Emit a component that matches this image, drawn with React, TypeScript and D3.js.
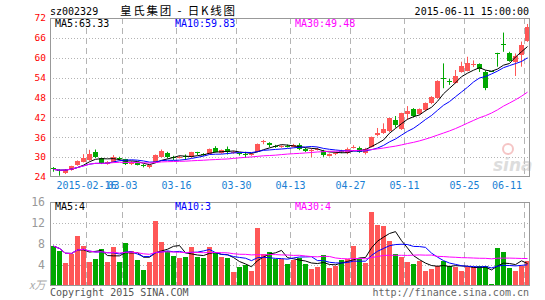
import React from "react";
import * as d3 from "d3";

// ---- data ----
const opens = [26.8,26.0,25.3,26.1,27.6,28.6,29.1,31.6,29.6,27.9,28.6,29.7,29.3,28.2,28.3,27.6,26.9,28.6,30.1,31.3,
  29.9,29.9,30.2,29.9,31.4,31.0,30.9,32.7,31.2,32.4,31.4,31.1,30.8,30.7,31.6,34.6,34.3,33.4,33.1,33.4,
  33.2,33.7,32.6,32.0,32.3,32.0,30.4,31.0,31.9,31.1,33.0,32.9,31.2,33.0,36.6,37.3,37.8,41.2,38.5,43.1,
  44.4,43.1,44.2,46.3,47.8,53.9,52.9,52.5,55.8,56.1,58.0,58.1,55.8,55.9,61.5,64.3,61.3,58.8,60.9,65.2];
const closes = [26.3,25.8,26.2,27.2,28.8,29.8,31.0,29.9,28.1,28.6,30.1,29.5,27.8,28.3,27.7,27.4,27.5,30.6,31.9,29.9,
  29.6,30.1,29.9,31.4,31.2,30.9,32.4,31.6,32.1,31.6,31.6,30.9,30.6,30.9,34.0,34.8,33.6,33.2,33.3,33.2,
  33.7,32.4,31.7,32.2,32.5,30.5,30.9,31.2,31.5,32.6,33.2,31.5,32.6,36.0,37.4,38.4,41.7,39.8,43.2,44.0,
  42.3,44.4,46.3,48.2,53.0,53.7,52.7,54.5,57.5,58.3,58.2,56.5,50.8,55.9,61.5,64.1,59.0,60.6,63.8,69.4];
const highs = [27.0,26.3,26.4,27.4,29.0,30.9,32.2,32.3,29.8,28.8,30.6,30.1,29.5,28.8,28.4,27.9,27.6,30.8,32.3,31.6,
  30.4,30.4,30.8,31.6,31.6,31.2,32.6,33.3,32.3,33.2,31.9,31.3,31.6,31.1,34.1,35.2,34.5,33.7,33.6,33.8,
  34.0,34.2,32.8,32.6,32.9,32.2,31.1,31.5,32.2,32.9,33.6,33.2,32.8,36.2,38.8,40.2,41.9,42.4,43.4,45.4,
  44.8,44.7,46.5,48.4,53.2,58.3,53.6,56.3,58.8,60.3,59.2,58.3,56.2,55.9,61.5,67.6,61.8,61.3,64.9,70.2];
const lows = [25.6,24.4,24.9,25.9,27.4,28.4,28.9,29.7,27.9,27.7,28.4,29.0,27.6,27.6,27.5,26.9,26.6,28.4,29.9,29.6,
  29.1,29.6,29.1,29.8,30.6,30.4,30.8,31.4,31.0,30.8,31.0,30.5,29.8,30.4,31.5,33.9,33.0,32.8,32.8,32.9,
  33.0,32.1,31.5,30.0,32.0,30.1,30.2,30.6,31.2,30.9,32.6,31.3,30.8,32.9,36.3,37.0,37.5,38.9,38.2,41.3,
  42.0,42.8,43.8,46.0,47.6,50.8,51.8,52.2,55.5,55.9,57.2,55.7,50.2,55.9,57.3,61.8,58.8,54.5,57.3,64.8];
const volumes = [7.6,6.7,4.4,6.1,9.5,7.7,4.6,5.1,7.0,4.6,7.4,4.6,8.2,6.6,5.0,3.0,4.6,12.4,8.4,6.6,
  5.8,5.3,5.5,7.4,5.5,5.3,7.4,6.3,5.5,5.3,2.6,3.6,4.0,2.8,11.1,6.1,6.5,5.1,5.1,4.2,
  5.0,5.3,4.2,3.2,3.7,6.0,3.4,3.9,4.9,5.2,7.6,5.1,4.3,14.1,11.6,11.4,8.6,6.1,5.5,4.6,
  4.1,4.8,2.8,3.2,3.9,4.8,3.9,3.6,2.9,3.6,3.6,3.9,3.9,0.3,7.3,6.4,3.5,2.9,3.9,4.7];

const tickIndex = [6, 12, 21, 31, 40, 50, 59, 69, 79];
const tickLabels = ["2015-02-16", "03-03", "03-16", "03-30", "04-13", "04-27", "05-11", "05-25", "06-11"];
const priceTicks = [24, 30, 36, 42, 48, 54, 60, 66, 72];
const volTicks = [4, 8, 12, 16];
const maPeriods = [5, 10, 30];
const maColors = ["#000000", "#0000ff", "#ff00ff"];
const priceMaLabels = ["MA5:63.33", "MA10:59.83", "MA30:49.48"];
const volMaLabels = ["MA5:4", "MA10:3", "MA30:4"];

const RED = "#ff5757";
const GREEN = "#00a800";
const GRID = "#b4b4b4";
const BORDER = "#999999";
const MONO = "'DejaVu Sans Mono', monospace";

function movingAvg(arr: number[], n: number) {
  return arr.map((_, i) => d3.mean(arr.slice(Math.max(0, i - n + 1), i + 1)) as number);
}

export default function App() {
  const W = 545, H = 300;
  const X0 = 50, X1 = 530;
  const PT = 18, PB = 177;
  const VT = 202, VB = 286;
  const n = closes.length;

  const x = d3.scaleBand<number>().domain(d3.range(n)).range([X0, X1]).paddingInner(0).paddingOuter(0);
  const step = x.step();
  const cx = (i: number) => (x(i) as number) + 3.5;
  const y = d3.scaleLinear().domain([24, 72]).range([PB, PT]);
  const yv = d3.scaleLinear().domain([0, 16]).range([VB, VT]);

  const isUp = (i: number) => closes[i] > opens[i];

  const priceLine = d3.line<number>().x((_, i) => cx(i)).y((d) => y(d));
  const volLine = d3.line<number>().x((_, i) => cx(i)).y((d) => yv(d));

  const vLines = tickIndex.map((i) => (x(i) as number) + 0.5);

  return (
    <svg width={W} height={H} style={{ position: "absolute", left: 0, top: 0, background: "#fff" }}>
      {/* header */}
      <text x={50} y={15} fontFamily={MONO} fontSize={10} fill="#000">sz002329</text>
      <text x={120} y={15} fontFamily="'Noto Sans CJK SC', sans-serif" fontSize={11.5} fill="#000"
        textLength={115} lengthAdjust="spacing">皇氏集团 - 日K线图</text>
      <text x={529} y={15} fontFamily={MONO} fontSize={10} fill="#000" textAnchor="end">2015-06-11 15:00:00</text>

      {/* price grid */}
      {priceTicks.slice(1, -1).map((t) => (
        <line key={"pg" + t} x1={X0} x2={X1} y1={Math.round(y(t)) + 0.5} y2={Math.round(y(t)) + 0.5}
          stroke={GRID} strokeDasharray="1,2" />
      ))}
      {vLines.map((vx, k) => (
        <line key={"pv" + k} x1={vx} x2={vx} y1={PT} y2={PB} stroke={GRID} strokeDasharray="6,4" />
      ))}
      {/* price axis labels */}
      {priceTicks.map((t) => (
        <text key={"pl" + t} x={46} y={y(t)} dy="0.35em" textAnchor="end" fontFamily={MONO} fontSize={9.5} fill="#ff0000">{t}</text>
      ))}

      {/* watermark */}
      <g opacity={0.6}>
        <circle cx={508} cy={149} r={5} fill="none" stroke="#f0a0a0" strokeWidth={2} />
        <text x={493} y={171} fontFamily="'DejaVu Sans', sans-serif" fontStyle="italic" fontWeight="bold" fontSize={17} fill="#c8c8c8">sina</text>
      </g>

      {/* candles */}
      {closes.map((c, i) => {
        const col = isUp(i) ? RED : GREEN;
        const top = Math.round(y(Math.max(opens[i], c)));
        const bot = Math.round(y(Math.min(opens[i], c)));
        const xc = Math.floor(cx(i)) + 0.5;
        return (
          <g key={"c" + i}>
            <line x1={xc} x2={xc} y1={y(highs[i])} y2={y(lows[i])} stroke={col} strokeWidth={1} />
            <rect x={(x(i) as number) + 1} y={top} width={step - 1} height={Math.max(1, bot - top)} fill={col} shapeRendering="crispEdges" />
          </g>
        );
      })}

      {/* price MAs */}
      {maPeriods.map((p, k) => (
        <path key={"pm" + p} d={priceLine(movingAvg(closes, p)) || ""} fill="none" stroke={maColors[k]} strokeWidth={1} />
      ))}

      {/* price frame */}
      <rect x={X0 + 0.5} y={PT + 0.5} width={X1 - X0 - 1} height={PB - PT - 1} fill="none" stroke={BORDER} />

      {/* MA labels */}
      {priceMaLabels.map((s, k) => (
        <text key={"pml" + k} x={55 + 120 * k} y={27} fontFamily={MONO} fontSize={10} fill={maColors[k]}>{s}</text>
      ))}

      {/* date labels */}
      {tickIndex.map((i, k) => {
        const lbl = tickLabels[k];
        const w = lbl.length * 6.02;
        const c = (x(i) as number) + 0.5;
        const clamp = c + w / 2 > X1 - 8;
        return (
          <text key={"dl" + k} x={clamp ? X1 - 8 : c} y={189} textAnchor={clamp ? "end" : "middle"}
            fontFamily={MONO} fontSize={10} fill="#1a7fd4">{lbl}</text>
        );
      })}

      {/* volume grid */}
      {volTicks.slice(0, -1).map((t) => (
        <line key={"vg" + t} x1={X0} x2={X1} y1={Math.round(yv(t)) + 0.5} y2={Math.round(yv(t)) + 0.5}
          stroke={GRID} strokeDasharray="1,2" />
      ))}
      {vLines.map((vx, k) => (
        <line key={"vv" + k} x1={vx} x2={vx} y1={VT} y2={VB} stroke={GRID} strokeDasharray="6,4" />
      ))}
      {volTicks.map((t) => (
        <text key={"vl" + t} x={45} y={yv(t)} dy="0.35em" textAnchor="end" fontFamily={MONO} fontSize={11.5} fill="#999">{t}</text>
      ))}
      <text x={29} y={289} fontFamily="'Noto Sans CJK SC', sans-serif" fontStyle="italic" fontSize={11} fill="#aaa">x万</text>

      {/* volume bars */}
      {volumes.map((v, i) => (
        <rect key={"vb" + i} x={(x(i) as number) + 1} y={Math.round(yv(v))} width={step - 1}
          height={VB - Math.round(yv(v))} fill={isUp(i) ? RED : GREEN} shapeRendering="crispEdges" />
      ))}
      {maPeriods.map((p, k) => (
        <path key={"vm" + p} d={volLine(movingAvg(volumes, p)) || ""} fill="none" stroke={maColors[k]} strokeWidth={1} />
      ))}
      <rect x={X0 + 0.5} y={VT + 0.5} width={X1 - X0 - 1} height={VB - VT - 1} fill="none" stroke={BORDER} />
      {volMaLabels.map((s, k) => (
        <text key={"vml" + k} x={55 + 120 * k} y={210} fontFamily={MONO} fontSize={10} fill={maColors[k]}>{s}</text>
      ))}

      {/* footer */}
      <text x={50} y={296} fontFamily={MONO} fontSize={10} fill="#555">Copyright 2015 SINA.COM</text>
      <text x={529} y={296} textAnchor="end" fontFamily={MONO} fontSize={10} fill="#666">http://finance.sina.com.cn</text>
    </svg>
  );
}
